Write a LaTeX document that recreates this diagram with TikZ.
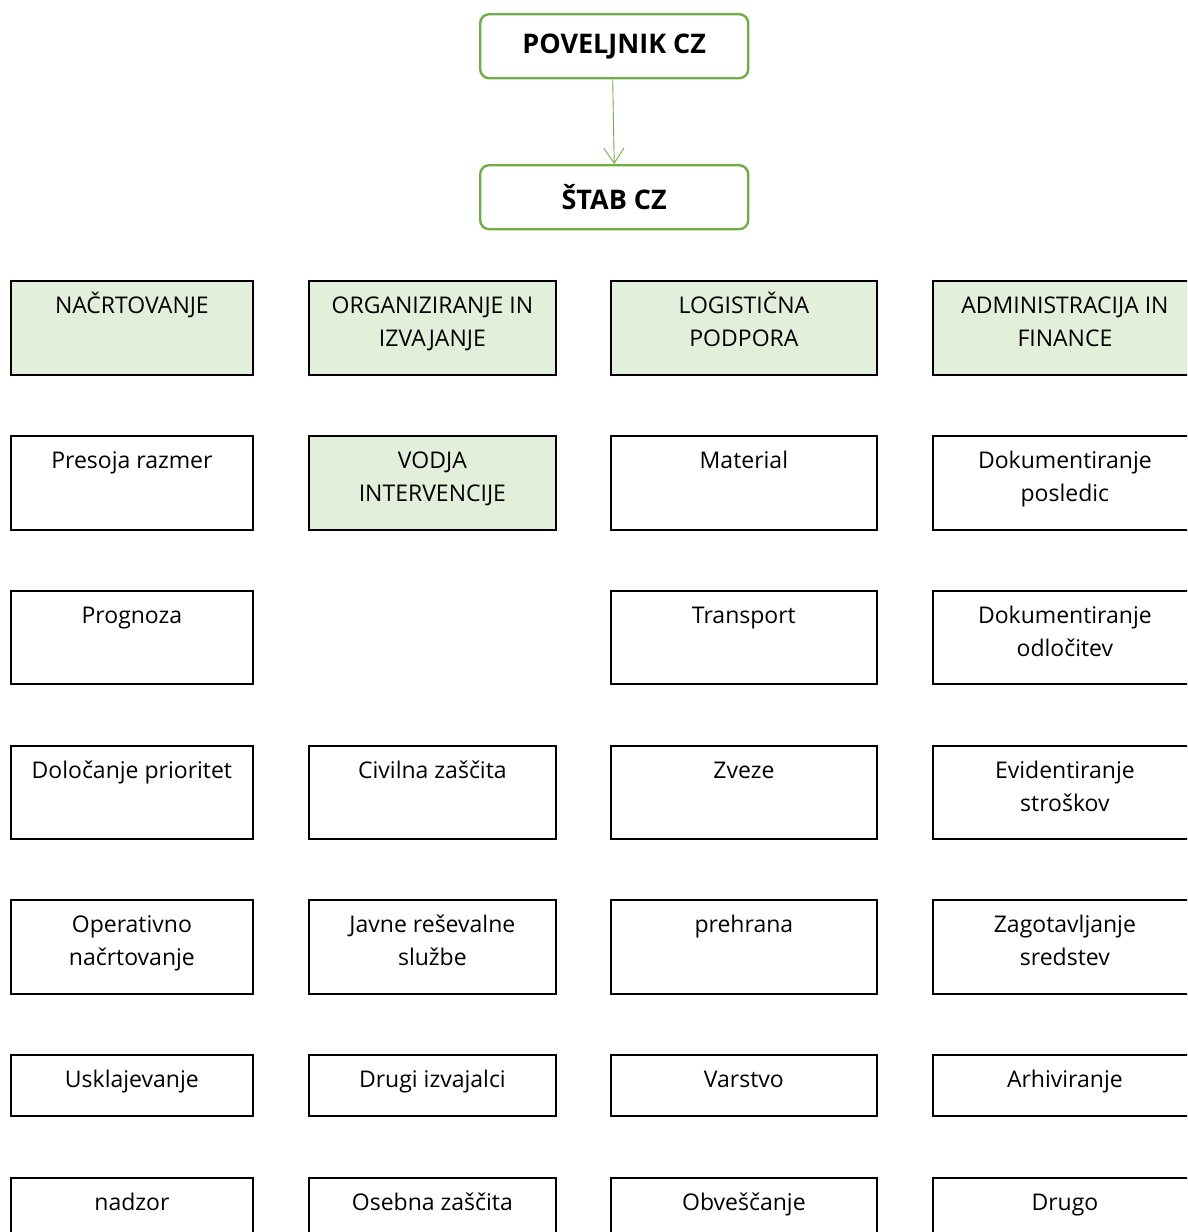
\documentclass[tikz,border=0pt]{standalone}
\usepackage{fontspec}
\setmainfont{Open Sans}
\usetikzlibrary{arrows.meta}
\definecolor{leafgreen}{HTML}{70AD47}
\definecolor{palegreen}{HTML}{E2EFDA}
\newcommand\cellfont{\fontsize{23}{33}\selectfont}
% top-aligned, centred text block of given width and height
\newcommand\celltext[3]{\parbox[t][#2][t]{#1}{\centering\rule{0pt}{33pt}#3}}
\tikzset{
  cellbox/.style={draw=black, line width=1.8pt, anchor=north west, inner sep=0pt, font=\cellfont},
  head/.style={draw=leafgreen, line width=2.4pt, rounded corners=9pt, fill=white,
    minimum width=268pt, minimum height=64pt, anchor=north west, inner sep=0pt,
    font=\fontsize{27}{32}\selectfont\bfseries},
}
\newcommand\cell[7]{%
  \node[cellbox, fill=#6] (#1) at (#2,#3) {\celltext{#4pt}{#5pt}{#7}};}
\begin{document}
\begin{tikzpicture}[x=1pt,y=-1pt]
\useasboundingbox (0,0) rectangle (1187,1232);
\clip (0,0) rectangle (1187,1232);
\fill[white] (0,0) rectangle (1187,1232);

\node[head] (povel) at (479,13) {POVELJNIK CZ};
\node[head] (stab) at (479,164) {ŠTAB CZ};
\draw[leafgreen, line width=0.9pt, -{Straight Barb[length=15pt,width=20pt,line width=0.9pt]}]
  ([xshift=-1.5pt]povel.south) -- (stab.north);

% column 1
\cell{n1}{10}{280}{242}{94}{palegreen}{NAČRTOVANJE}
\cell{n2}{10}{435}{242}{94}{white}{Presoja razmer}
\cell{n3}{10}{590}{242}{93}{white}{Prognoza}
\cell{n4}{10}{745}{242}{93}{white}{Določanje prioritet}
\cell{n5}{10}{899}{242}{94}{white}{Operativno\\načrtovanje}
\cell{n6}{10}{1054}{242}{61}{white}{Usklajevanje}
\cell{n7}{10}{1177}{242}{94}{white}{nadzor}

% column 2
\cell{o1}{308}{280}{247}{94}{palegreen}{ORGANIZIRANJE IN\\IZVAJANJE}
\cell{o2}{308}{435}{247}{94}{palegreen}{VODJA\\INTERVENCIJE}
\cell{o4}{308}{745}{247}{93}{white}{Civilna zaščita}
\cell{o5}{308}{899}{247}{94}{white}{Javne reševalne\\službe}
\cell{o6}{308}{1054}{247}{61}{white}{Drugi izvajalci}
\cell{o7}{308}{1177}{247}{94}{white}{Osebna zaščita}

% column 3
\cell{l1}{610}{280}{266}{94}{palegreen}{LOGISTIČNA\\PODPORA}
\cell{l2}{610}{435}{266}{94}{white}{Material}
\cell{l3}{610}{590}{266}{93}{white}{Transport}
\cell{l4}{610}{745}{266}{93}{white}{Zveze}
\cell{l5}{610}{899}{266}{94}{white}{prehrana}
\cell{l6}{610}{1054}{266}{61}{white}{Varstvo}
\cell{l7}{610}{1177}{266}{94}{white}{Obveščanje}

% column 4
\cell{a1}{932}{280}{264}{94}{palegreen}{ADMINISTRACIJA IN\\FINANCE}
\cell{a2}{932}{435}{264}{94}{white}{Dokumentiranje\\posledic}
\cell{a3}{932}{590}{264}{93}{white}{Dokumentiranje\\odločitev}
\cell{a4}{932}{745}{264}{93}{white}{Evidentiranje\\stroškov}
\cell{a5}{932}{899}{264}{94}{white}{Zagotavljanje\\sredstev}
\cell{a6}{932}{1054}{264}{61}{white}{Arhiviranje}
\cell{a7}{932}{1177}{264}{94}{white}{Drugo}
\end{tikzpicture}
\end{document}
